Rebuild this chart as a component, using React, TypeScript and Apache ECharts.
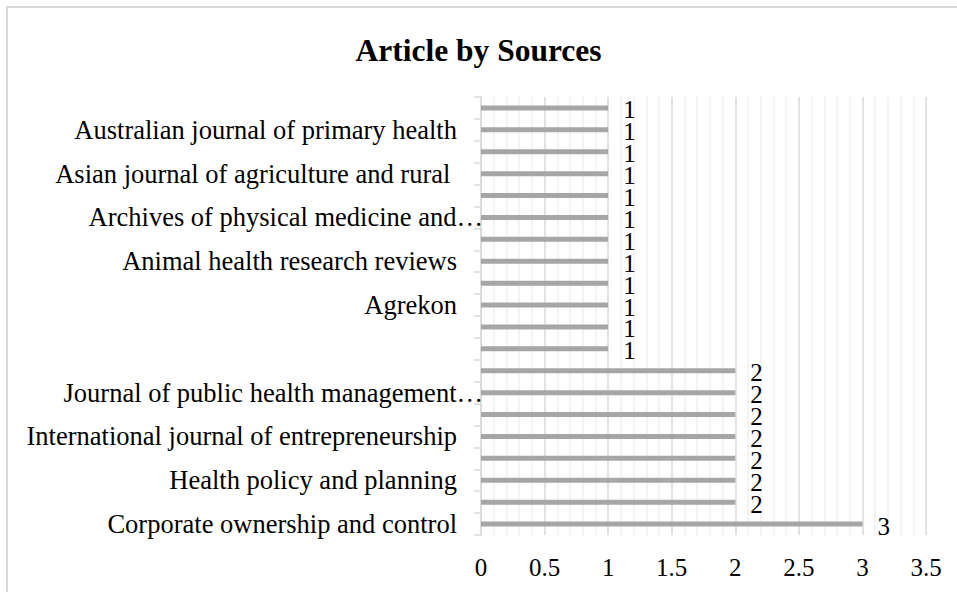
import React, { useEffect, useRef } from "react";
import * as echarts from "echarts";

// Categories from bottom (index 0) to top
const categories: string[] = [
  "Corporate ownership and control",
  "",
  "Health policy and planning",
  "",
  "International journal of entrepreneurship",
  "",
  "Journal of public health management…",
  "",
  "",
  "",
  "Agrekon",
  "",
  "Animal health research reviews",
  "",
  "Archives of physical medicine and…",
  "",
  "Asian journal of agriculture and rural ",
  "",
  "Australian journal of primary health",
  "",
];
const values: number[] = [3, 2, 2, 2, 2, 2, 2, 2, 1, 1, 1, 1, 1, 1, 1, 1, 1, 1, 1, 1];
const xTicks: number[] = [0, 0.5, 1, 1.5, 2, 2.5, 3, 3.5];
const title = "Article by Sources";

const FONT = "'Liberation Serif', 'Times New Roman', serif";

export default function App() {
  const ref = useRef<HTMLDivElement>(null);
  useEffect(() => {
    document.body.style.margin = "0";
    if (!ref.current) return;
    const chart = echarts.init(ref.current, undefined, { renderer: "svg" });
    const yData = categories.map((c) =>
      c.endsWith("…") ? { value: c, textStyle: { padding: [0, -26, 0, 0] } } : c
    );
    chart.setOption({
      animation: false,
      backgroundColor: "#ffffff",
      title: {
        text: title,
        left: "center",
        top: 29,
        textStyle: { fontFamily: FONT, fontSize: 31.5, fontWeight: "bold", color: "#000" },
      },
      graphic: [
        {
          type: "rect",
          shape: { x: 7, y: 7, width: 960, height: 600 },
          style: { fill: "none", stroke: "#d9d9d9", lineWidth: 2 },
          silent: true,
        },
      ],
      grid: { left: 481, right: 31, top: 97, bottom: 57, containLabel: false },
      xAxis: {
        type: "value",
        min: xTicks[0],
        max: xTicks[xTicks.length - 1],
        interval: 0.5,
        axisLine: { show: false },
        axisTick: { show: false },
        axisLabel: {
          fontFamily: FONT,
          fontSize: 25,
          color: "#000",
          margin: 20,
          formatter: (v: number) => String(v),
        },
        splitLine: { show: true, lineStyle: { color: "#d9d9d9", width: 1.5 } },
        minorTick: { show: false, splitNumber: 5 },
        minorSplitLine: { show: true, lineStyle: { color: "#efefef", width: 1.5 } },
      },
      yAxis: {
        type: "category",
        data: yData,
        axisLine: { show: true, lineStyle: { color: "#d9d9d9", width: 1.5 } },
        axisTick: { show: true, interval: 0, length: 7, lineStyle: { color: "#d9d9d9", width: 1.5 } },
        axisLabel: {
          interval: 1,
          fontFamily: FONT,
          fontSize: 26.5,
          color: "#000",
          margin: 24,
        },
        splitLine: { show: false },
      },
      series: [
        {
          type: "bar",
          data: values,
          barWidth: 5,
          itemStyle: { color: "#a6a6a6" },
          label: {
            show: true,
            position: "right",
            distance: 15,
            fontFamily: FONT,
            fontSize: 25,
            lineHeight: 18,
            color: "#000",
            offset: [0, 2],
          },
        },
      ],
    });
    return () => chart.dispose();
  }, []);
  return <div ref={ref} style={{ width: 957, height: 592, position: "absolute", left: 0, top: 0 }} />;
}
